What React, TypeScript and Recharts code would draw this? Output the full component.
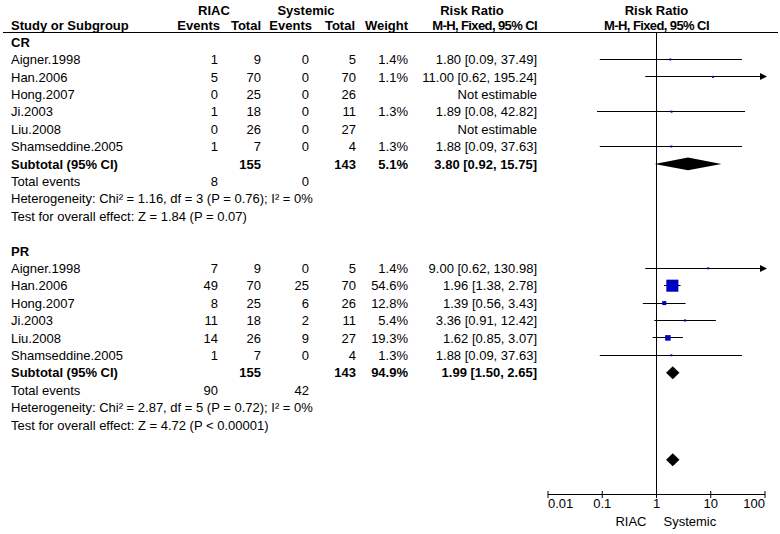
import React from 'react';
import {
  ComposedChart,
  XAxis,
  YAxis,
  Scatter,
  ReferenceLine,
  ReferenceArea,
  Customized,
} from 'recharts';

// ---------------- data ----------------
const studyNames = ['Aigner.1998', 'Han.2006', 'Hong.2007', 'Ji.2003', 'Liu.2008', 'Shamseddine.2005'];
const subgroupNames = ['CR', 'PR'];

const crRiacEvents = [1, 5, 0, 1, 0, 1];
const crRiacTotals = [9, 70, 25, 18, 26, 7];
const crSysEvents = [0, 0, 0, 0, 0, 0];
const crSysTotals = [5, 70, 26, 11, 27, 4];
const crWeights = [1.4, 1.1, null, 1.3, null, 1.3];
const crRatios = [1.8, 11.0, null, 1.89, null, 1.88];
const crLower = [0.09, 0.62, null, 0.08, null, 0.09];
const crUpper = [37.49, 195.24, null, 42.82, null, 37.63];

const prRiacEvents = [7, 49, 8, 11, 14, 1];
const prRiacTotals = [9, 70, 25, 18, 26, 7];
const prSysEvents = [0, 25, 6, 2, 9, 0];
const prSysTotals = [5, 70, 26, 11, 27, 4];
const prWeights = [1.4, 54.6, 12.8, 5.4, 19.3, 1.3];
const prRatios = [9.0, 1.96, 1.39, 3.36, 1.62, 1.88];
const prLower = [0.62, 1.38, 0.56, 0.91, 0.85, 0.09];
const prUpper = [130.98, 2.78, 3.43, 12.42, 3.07, 37.63];

const subtotalRiacTotals = [155, 155];
const subtotalSysTotals = [143, 143];
const subtotalWeights = [5.1, 94.9];
const subtotalRatios = [3.8, 1.99];
const subtotalLower = [0.92, 1.5];
const subtotalUpper = [15.75, 2.65];
const totalRiacEvents = [8, 90];
const totalSysEvents = [0, 42];
const heterogeneityTexts = [
  'Heterogeneity: Chi\u00b2 = 1.16, df = 3 (P = 0.76); I\u00b2 = 0%',
  'Heterogeneity: Chi\u00b2 = 2.87, df = 5 (P = 0.72); I\u00b2 = 0%',
];
const overallEffectTexts = [
  'Test for overall effect: Z = 1.84 (P = 0.07)',
  'Test for overall effect: Z = 4.72 (P < 0.00001)',
];

const overallRatio = [1.99];
const overallLower = [1.5];
const overallUpper = [2.65];

const axisTicks = [0.01, 0.1, 1, 10, 100];
const axisTickLabels = ['0.01', '0.1', '1', '10', '100'];
const favoursLabels = ['RIAC', 'Systemic'];

// ---------------- layout ----------------
const W = 780;
const H = 534;
const PLOT_LEFT = 548;
const PLOT_RIGHT = 765;
const TOP = 32.5;
const AXIS_Y = 494.5;
const Y_MIN = -0.55;
const Y_MAX = 26;
const ROW_H = (AXIS_Y - TOP) / (Y_MAX - Y_MIN);
const ROW0 = TOP - Y_MIN * ROW_H;
const GROUP_START = [0, 12];
const OVERALL_ROW = 24;

const FONT = "'Liberation Sans', Arial, Helvetica, sans-serif";
const FS = 13;

const groups = [
  {
    riacEv: crRiacEvents, riacTot: crRiacTotals, sysEv: crSysEvents, sysTot: crSysTotals,
    w: crWeights, rr: crRatios, lo: crLower, hi: crUpper,
  },
  {
    riacEv: prRiacEvents, riacTot: prRiacTotals, sysEv: prSysEvents, sysTot: prSysTotals,
    w: prWeights, rr: prRatios, lo: prLower, hi: prUpper,
  },
];

const squarePoints: { x: number; y: number; w: number }[] = [];
const ciSegments: { lo: number; hi: number; y: number; arrow: boolean }[] = [];
const diamonds: { lo: number; hi: number; y: number }[] = [];

groups.forEach((g, gi) => {
  const start = GROUP_START[gi];
  studyNames.forEach((_, i) => {
    const rr = g.rr[i];
    if (rr != null) {
      const row = start + 1 + i;
      squarePoints.push({ x: rr, y: row, w: g.w[i] as number });
      const hi = g.hi[i] as number;
      ciSegments.push({
        lo: g.lo[i] as number,
        hi: Math.min(hi, axisTicks[axisTicks.length - 1]),
        y: row,
        arrow: hi > axisTicks[axisTicks.length - 1],
      });
    }
  });
  diamonds.push({ lo: subtotalLower[gi], hi: subtotalUpper[gi], y: start + 7 });
});
overallRatio.forEach((_, i) => diamonds.push({ lo: overallLower[i], hi: overallUpper[i], y: OVERALL_ROW }));

const fmtRR = (rr: number, lo: number, hi: number) => `${rr.toFixed(2)} [${lo.toFixed(2)}, ${hi.toFixed(2)}]`;

// ---------------- text table ----------------
type Cell = { x: number; y: number; t: string; anchor?: 'start' | 'middle' | 'end'; bold?: boolean; ls?: number };

const COL = { name: 11, riacEv: 218, riacTot: 261, sysEv: 309, sysTot: 356, weight: 408, rr: 537 };
const baseline = (row: number) => ROW0 + ROW_H * row + 4.7;

const buildCells = (): Cell[] => {
  const cells: Cell[] = [];
  // header
  cells.push({ x: 214, y: 15, t: 'RIAC', anchor: 'middle', bold: true });
  cells.push({ x: 306, y: 15, t: 'Systemic', anchor: 'middle', bold: true });
  cells.push({ x: 472, y: 15, t: 'Risk Ratio', anchor: 'middle', bold: true });
  cells.push({ x: 656.5, y: 15, t: 'Risk Ratio', anchor: 'middle', bold: true });
  cells.push({ x: COL.name, y: 30, t: 'Study or Subgroup', bold: true });
  cells.push({ x: 220, y: 30, t: 'Events', anchor: 'end', bold: true });
  cells.push({ x: 261, y: 30, t: 'Total', anchor: 'end', bold: true });
  cells.push({ x: 312, y: 30, t: 'Events', anchor: 'end', bold: true });
  cells.push({ x: 355, y: 30, t: 'Total', anchor: 'end', bold: true });
  cells.push({ x: 408, y: 30, t: 'Weight', anchor: 'end', bold: true });
  cells.push({ x: 537, y: 30, t: 'M-H, Fixed, 95% CI', anchor: 'end', bold: true, ls: -0.6 });
  cells.push({ x: 656.5, y: 30, t: 'M-H, Fixed, 95% CI', anchor: 'middle', bold: true, ls: -0.6 });

  groups.forEach((g, gi) => {
    const start = GROUP_START[gi];
    cells.push({ x: COL.name, y: baseline(start), t: subgroupNames[gi], bold: true });
    studyNames.forEach((name, i) => {
      const y = baseline(start + 1 + i);
      cells.push({ x: COL.name, y, t: name });
      cells.push({ x: COL.riacEv, y, t: String(g.riacEv[i]), anchor: 'end' });
      cells.push({ x: COL.riacTot, y, t: String(g.riacTot[i]), anchor: 'end' });
      cells.push({ x: COL.sysEv, y, t: String(g.sysEv[i]), anchor: 'end' });
      cells.push({ x: COL.sysTot, y, t: String(g.sysTot[i]), anchor: 'end' });
      const rr = g.rr[i];
      if (rr != null) {
        cells.push({ x: COL.weight, y, t: `${(g.w[i] as number).toFixed(1)}%`, anchor: 'end' });
        cells.push({ x: COL.rr, y, t: fmtRR(rr, g.lo[i] as number, g.hi[i] as number), anchor: 'end' });
      } else {
        cells.push({ x: COL.rr, y, t: 'Not estimable', anchor: 'end' });
      }
    });
    const ys = baseline(start + 7);
    cells.push({ x: COL.name, y: ys, t: 'Subtotal (95% CI)', bold: true });
    cells.push({ x: COL.riacTot, y: ys, t: String(subtotalRiacTotals[gi]), anchor: 'end', bold: true });
    cells.push({ x: COL.sysTot, y: ys, t: String(subtotalSysTotals[gi]), anchor: 'end', bold: true });
    cells.push({ x: COL.weight, y: ys, t: `${subtotalWeights[gi].toFixed(1)}%`, anchor: 'end', bold: true });
    cells.push({
      x: COL.rr, y: ys, t: fmtRR(subtotalRatios[gi], subtotalLower[gi], subtotalUpper[gi]), anchor: 'end', bold: true,
    });
    const yt = baseline(start + 8);
    cells.push({ x: COL.name, y: yt, t: 'Total events' });
    cells.push({ x: COL.riacEv, y: yt, t: String(totalRiacEvents[gi]), anchor: 'end' });
    cells.push({ x: COL.sysEv, y: yt, t: String(totalSysEvents[gi]), anchor: 'end' });
    cells.push({ x: COL.name, y: baseline(start + 9), t: heterogeneityTexts[gi] });
    cells.push({ x: COL.name, y: baseline(start + 10), t: overallEffectTexts[gi] });
  });
  return cells;
};

const tableCells = buildCells();

const TableText = () => (
  <g>
    {tableCells.map((c, i) => (
      <text
        key={i}
        x={c.x}
        y={c.y}
        textAnchor={c.anchor || 'start'}
        fontFamily={FONT}
        fontSize={FS}
        fontWeight={c.bold ? 'bold' : 'normal'}
        letterSpacing={c.ls || 0}
        fill="#000"
      >
        {c.t}
      </text>
    ))}
    <line x1={3} x2={778} y1={32.5} y2={32.5} stroke="#000" strokeWidth={1} />
  </g>
);

// ---------------- shapes ----------------
const AxisTick = (props: any) => {
  const { x, y, payload } = props;
  const v = payload.value;
  const idx = axisTicks.indexOf(v);
  const anchor = idx === 0 ? 'start' : idx === axisTicks.length - 1 ? 'end' : 'middle';
  return (
    <g>
      <line x1={x} x2={x} y1={y - 3.5} y2={y + 3.5} stroke="#000" strokeWidth={1} />
      <text x={x} y={y + 13} textAnchor={anchor} fontFamily={FONT} fontSize={FS} fill="#000">
        {axisTickLabels[idx]}
      </text>
      {v === 1 && (
        <>
          <text x={x - 10} y={y + 31} textAnchor="end" fontFamily={FONT} fontSize={FS} fill="#000">
            {favoursLabels[0]}
          </text>
          <text x={x + 7} y={y + 31} textAnchor="start" fontFamily={FONT} fontSize={FS} fill="#000">
            {favoursLabels[1]}
          </text>
        </>
      )}
    </g>
  );
};

const SquareShape = (props: any) => {
  const { cx, cy, payload } = props;
  const s = Math.max(2, 0.6 * Math.pow(payload.w, 0.75));
  return <rect x={cx - s / 2} y={cy - s / 2} width={s} height={s} fill="#0000C0" />;
};

const makeCiShape = (arrow: boolean) => (p: any) => {
  const y = Math.round(p.y1 - 0.5) + 0.5;
  return (
    <g>
      <line x1={p.x1} x2={p.x2} y1={y} y2={y} stroke="#000" strokeWidth={1} />
      {arrow && (
        <polygon points={`${p.x2 + 2},${y} ${p.x2 - 5},${y - 3.5} ${p.x2 - 5},${y + 3.5}`} fill="#000" />
      )}
    </g>
  );
};

const DiamondShape = (p: any) => {
  const { x, y, width, height } = p;
  const cx = x + width / 2;
  const cy = y + height / 2;
  return (
    <polygon points={`${x},${cy} ${cx},${y} ${x + width},${cy} ${cx},${y + height}`} fill="#000" stroke="none" />
  );
};

export default function App() {
  return (
    <div style={{ position: 'absolute', left: 0, top: 0, width: W, height: H, background: '#fff' }}>
      <ComposedChart
        width={W}
        height={H}
        margin={{ top: TOP, right: W - PLOT_RIGHT, bottom: 0, left: PLOT_LEFT }}
      >
        <XAxis
          type="number"
          dataKey="x"
          scale="log"
          domain={[axisTicks[0], axisTicks[axisTicks.length - 1]]}
          ticks={axisTicks}
          interval={0}
          allowDataOverflow
          axisLine={{ stroke: '#000', strokeWidth: 1 }}
          tickLine={false}
          tickSize={0}
          tickMargin={0}
          height={H - AXIS_Y}
          tick={(props: any) => <AxisTick {...props} />}
        />
        <YAxis type="number" dataKey="y" domain={[Y_MIN, Y_MAX]} reversed hide width={0} allowDataOverflow />
        <Customized component={TableText} />
        <ReferenceLine
          segment={[{ x: 1, y: Y_MIN }, { x: 1, y: Y_MAX }]}
          stroke="#000"
          strokeWidth={1}
          ifOverflow="visible"
        />
        {ciSegments.map((c, i) => (
          <ReferenceLine
            key={`ci${i}`}
            segment={[{ x: c.lo, y: c.y }, { x: c.hi, y: c.y }]}
            ifOverflow="visible"
            shape={makeCiShape(c.arrow)}
          />
        ))}
        {diamonds.map((d, i) => (
          <ReferenceArea
            key={`d${i}`}
            x1={d.lo}
            x2={d.hi}
            y1={d.y - 0.37}
            y2={d.y + 0.37}
            ifOverflow="visible"
            shape={DiamondShape}
          />
        ))}
        <Scatter data={squarePoints} dataKey="y" isAnimationActive={false} shape={SquareShape} />
      </ComposedChart>
    </div>
  );
}
